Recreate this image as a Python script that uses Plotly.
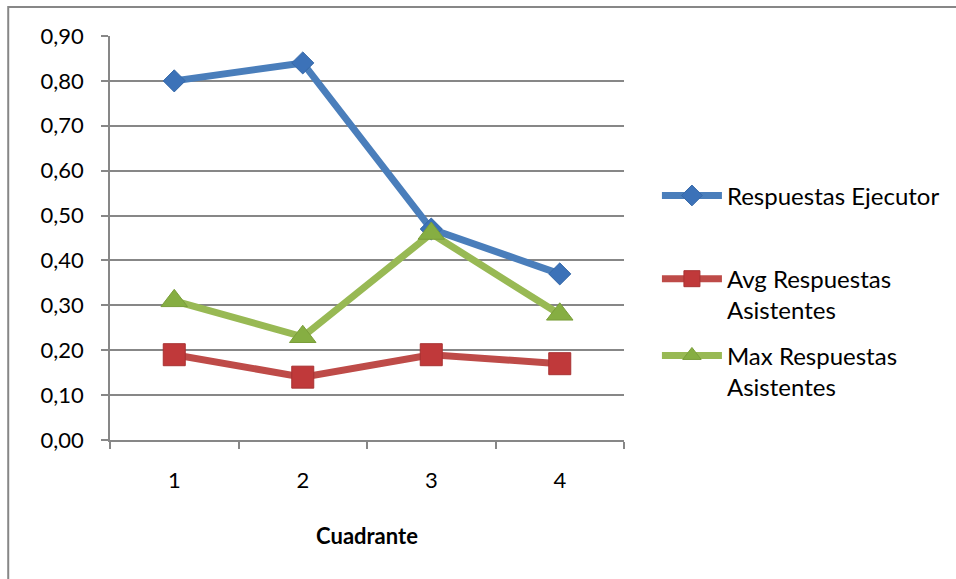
import plotly.graph_objects as go

# Quadrant categories and response rates per series
cuadrantes = ["1", "2", "3", "4"]
respuestas_ejecutor = [0.80, 0.84, 0.47, 0.37]
avg_respuestas_asistentes = [0.19, 0.14, 0.19, 0.17]
max_respuestas_asistentes = [0.31, 0.23, 0.46, 0.28]

FONT = "Lato"
GRID = "#878787"

fig = go.Figure()

fig.add_trace(go.Scatter(
    x=cuadrantes, y=respuestas_ejecutor, name="Respuestas Ejecutor",
    mode="lines+markers",
    line=dict(color="#4A7EBB", width=7),
    marker=dict(symbol="diamond", size=17, color="#3C72B8",
                line=dict(color="#3568A8", width=1)),
    legend="legend",
))
fig.add_trace(go.Scatter(
    x=cuadrantes, y=avg_respuestas_asistentes, name="Avg Respuestas<br>Asistentes",
    mode="lines+markers",
    line=dict(color="#BE4B48", width=7),
    marker=dict(symbol="square", size=22, color="#C0393A",
                line=dict(color="#A83232", width=1)),
    legend="legend2",
))
fig.add_trace(go.Scatter(
    x=cuadrantes, y=max_respuestas_asistentes, name="Max Respuestas<br>Asistentes",
    mode="lines+markers",
    line=dict(color="#98B954", width=7),
    marker=dict(symbol="triangle-up", size=23, color="#86AE42",
                line=dict(color="#7A9E3A", width=1)),
    legend="legend3",
))

legend_common = dict(
    font=dict(family=FONT, size=24, color="#000000"),
    bgcolor="rgba(0,0,0,0)",
    itemwidth=60,
    valign="top",
    xanchor="left",
    yanchor="top",
    x=1.062,
)

fig.update_layout(
    width=956,
    height=579,
    autosize=False,
    margin=dict(l=110, r=331, t=36, b=139),
    paper_bgcolor="white",
    plot_bgcolor="white",
    separators=",.",
    font=dict(family=FONT, size=22, color="#000000"),
    showlegend=True,
    legend=dict(**legend_common, y=0.660),
    legend2=dict(**legend_common, y=0.454),
    legend3=dict(**legend_common, y=0.264),
    xaxis=dict(
        type="category",
        range=[-0.5, 3.5],
        showgrid=False,
        showline=True,
        linecolor=GRID,
        linewidth=1.5,
        ticks="outside",
        tickson="boundaries",
        ticklen=7,
        tickcolor=GRID,
        tickwidth=1.5,
        tickfont=dict(family=FONT, size=22),
        ticklabelstandoff=20,
        title=dict(text="<b>Cuadrante</b>", font=dict(family=FONT, size=22), standoff=36),
        zeroline=False,
    ),
    yaxis=dict(
        range=[0, 0.9],
        dtick=0.1,
        tick0=0,
        tickformat=".2f",
        showgrid=True,
        gridcolor=GRID,
        gridwidth=1.5,
        showline=True,
        linecolor=GRID,
        linewidth=1.5,
        ticks="outside",
        ticklen=7,
        tickcolor=GRID,
        tickwidth=1.5,
        tickfont=dict(family=FONT, size=22),
        ticklabelstandoff=13,
        zeroline=False,
    ),
    shapes=[
        dict(type="rect", xref="paper", yref="paper",
             x0=-0.198, x1=1.75, y0=-0.6, y1=1.0718,
             line=dict(color=GRID, width=2), layer="below"),
    ],
)

fig.write_html("out.html")
